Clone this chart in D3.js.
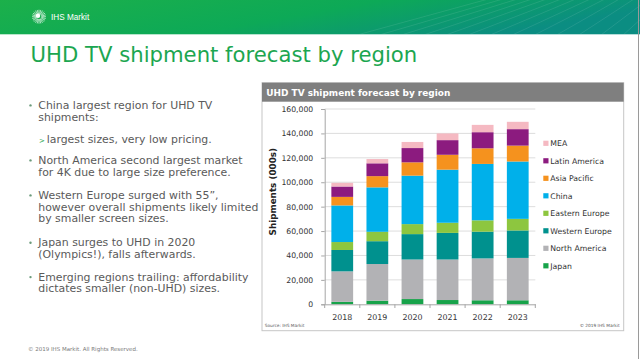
<!DOCTYPE html>
<html>
<head>
<meta charset="utf-8">
<script src="https://cdn.jsdelivr.net/npm/d3@7/dist/d3.min.js"></script>
<style>
  html, body { margin: 0; padding: 0; background: #fff; }
  svg { display: block; font-family: "DejaVu Sans", Verdana, sans-serif; }
</style>
</head>
<body>
<svg id="chart" width="640" height="359"></svg>
<script>
// ---------- data ----------
const years = ["2018", "2019", "2020", "2021", "2022", "2023"];
const regions = ["Japan", "North America", "Western Europe", "Eastern Europe", "China", "Asia Pacific", "Latin America", "MEA"];
const japan         = [2000, 3000, 4300, 3500, 3300, 3300];
const northAmerica  = [25000, 30000, 32400, 33200, 34300, 34700];
const westernEurope = [17500, 18700, 20800, 21800, 21900, 22500];
const easternEurope = [6500, 7700, 8200, 8300, 9300, 9500];
const china         = [30000, 36400, 39700, 43500, 46200, 47000];
const asiaPacific   = [7000, 9200, 10900, 12200, 12800, 13000];
const latinAmerica  = [8500, 10500, 11700, 12000, 13200, 13500];
const mea           = [3000, 3500, 5000, 5500, 6000, 6000];
const yTicks = [0, 20000, 40000, 60000, 80000, 100000, 120000, 140000, 160000];
const colors = ["#17a34a", "#b2b2b5", "#00918e", "#8dc63f", "#00b0ea", "#f5921e", "#8c1b7f", "#f5b9c2"];
const bullets = [
  { type: "bullet", lines: ["China largest region for UHD TV", "shipments:"] },
  { type: "sub", lines: ["largest sizes, very low pricing."] },
  { type: "bullet", lines: ["North America second largest market", "for 4K due to large size preference."] },
  { type: "bullet", lines: ["Western Europe surged with 55\u201d,", "however overall shipments likely limited", "by smaller screen sizes."] },
  { type: "bullet", lines: ["Japan surges to UHD in 2020", "(Olympics!), falls afterwards."] },
  { type: "bullet", lines: ["Emerging regions trailing: affordability", "dictates smaller (non-UHD) sizes."] }
];

const seriesValues = [japan, northAmerica, westernEurope, easternEurope, china, asiaPacific, latinAmerica, mea];
const table = years.map((y, i) => {
  const row = { year: y };
  regions.forEach((r, j) => row[r] = seriesValues[j][i]);
  return row;
});

const svg = d3.select("#chart");

// ---------- header band ----------
const defs = svg.append("defs");
const grad = defs.append("linearGradient").attr("id", "hdr").attr("x1", "0").attr("x2", "1").attr("y1", "0").attr("y2", "0.3");
grad.append("stop").attr("offset", "0").attr("stop-color", "#1cb04a");
grad.append("stop").attr("offset", "0.55").attr("stop-color", "#0da957");
grad.append("stop").attr("offset", "1").attr("stop-color", "#0b8d82");
svg.append("rect").attr("x", 0).attr("y", 0).attr("width", 640).attr("height", 34.3).attr("fill", "url(#hdr)");
defs.append("clipPath").attr("id", "hclip").append("rect").attr("x", 0).attr("y", 0).attr("width", 640).attr("height", 34.3);
const rays = svg.append("g").attr("clip-path", "url(#hclip)");
const apex = [740, -70];
d3.range(14).forEach(i => {
  const xEnd = 360 + i * 22;
  rays.append("line").attr("x1", apex[0]).attr("y1", apex[1]).attr("x2", xEnd + (xEnd - apex[0]) * 0.6).attr("y2", 34.3 + 104 * 0.6)
    .attr("stroke", "#ffffff").attr("stroke-opacity", 0.12).attr("stroke-width", 0.8);
});
// logo
const logo = svg.append("g").attr("transform", "translate(39,16.7)");
d3.range(24).forEach(i => {
  const a = i / 24 * 2 * Math.PI;
  logo.append("line").attr("x1", Math.cos(a) * 2.5).attr("y1", Math.sin(a) * 2.5)
    .attr("x2", Math.cos(a) * 7).attr("y2", Math.sin(a) * 7)
    .attr("stroke", "#fff").attr("stroke-width", 0.7).attr("stroke-opacity", 0.9);
});
logo.append("circle").attr("cx", -1).attr("cy", -1).attr("r", 2.2).attr("fill", "#fff");
svg.append("text").attr("x", 51).attr("y", 19.5).attr("fill", "#fff").attr("font-size", 8.2)
  .attr("font-family", "Liberation Sans, Arial, sans-serif").text("IHS Markit");

// right slide edge
svg.append("line").attr("x1", 638.5).attr("x2", 638.5).attr("y1", 0).attr("y2", 359).attr("stroke", "#9a9a9a").attr("stroke-width", 1);

// ---------- slide title ----------
svg.append("text").attr("x", 30.5).attr("y", 61.7).attr("fill", "#1ca650").attr("font-size", 21.2).text("UHD TV shipment forecast by region");

// ---------- bullets ----------
const bg = svg.append("g").attr("font-size", 10.9).attr("fill", "#5a5a5a");
const lineBaselines = [109, 120.7, 143.3, 164, 175.7, 199, 210.7, 222.3, 246.3, 258, 280.7, 292.3];
let li = 0;
bullets.forEach(b => {
  b.lines.forEach((t, k) => {
    const yb = lineBaselines[li++];
    if (b.type === "bullet" && k === 0) {
      bg.append("circle").attr("cx", 30.5).attr("cy", yb - 3.6).attr("r", 1.2).attr("fill", "#6a9a7a");
    }
    if (b.type === "sub") {
      bg.append("text").attr("x", 39).attr("y", yb - 0.5).attr("fill", "#1ca650").attr("font-size", 7).text(">");
      bg.append("text").attr("x", 46.7).attr("y", yb).text(t);
    } else {
      bg.append("text").attr("x", 38.3).attr("y", yb).text(t);
    }
  });
});
svg.append("text").attr("x", 28).attr("y", 351.3).attr("fill", "#7a7a7a").attr("font-size", 5.5)
  .text("\u00a9 2019 IHS Markit. All Rights Reserved.");

// ---------- chart panel ----------
const panel = { x: 262, y: 82.7, w: 361.7, h: 248 };
svg.append("rect").attr("x", panel.x).attr("y", panel.y).attr("width", panel.w).attr("height", panel.h)
  .attr("fill", "#fff").attr("stroke", "#c6c6c6").attr("stroke-width", 1);
svg.append("rect").attr("x", panel.x).attr("y", panel.y).attr("width", panel.w).attr("height", 19).attr("fill", "#7f7f7f");
svg.append("text").attr("x", 266.3).attr("y", 95.6).attr("fill", "#fff").attr("font-size", 8.95).attr("font-weight", "bold")
  .text("UHD TV shipment forecast by region");

const x = d3.scaleBand().domain(years).range([324.7, 535.3]).paddingInner(0.38).paddingOuter(0.19);
const y = d3.scaleLinear().domain([0, 160000]).range([304.3, 109]);

// gridlines
svg.append("g").selectAll("line").data(yTicks.filter(d => d > 0)).join("line")
  .attr("x1", 324.7).attr("x2", 535.3).attr("y1", d => y(d)).attr("y2", d => y(d))
  .attr("stroke", "#d4d4d4").attr("stroke-width", 0.8);

// stacked bars
const stack = d3.stack().keys(regions)(table);
const color = d3.scaleOrdinal().domain(regions).range(colors);
svg.append("g").selectAll("g").data(stack).join("g").attr("fill", d => color(d.key))
  .selectAll("rect").data(d => d).join("rect")
  .attr("x", d => x(d.data.year)).attr("width", x.bandwidth())
  .attr("y", d => y(d[1])).attr("height", d => y(d[0]) - y(d[1]));

// y axis
const yAxis = svg.append("g").attr("transform", "translate(324.7,0)")
  .call(d3.axisLeft(y).tickValues(yTicks).tickFormat(d3.format(",")).tickSize(3.5).tickPadding(8));
yAxis.select(".domain").attr("stroke", "#a6a6a6");
yAxis.selectAll(".tick line").attr("stroke", "#a6a6a6");
yAxis.selectAll("text").attr("font-size", 7.7).attr("fill", "#333").attr("font-family", "DejaVu Sans, Verdana, sans-serif");

// x axis
const xAxis = svg.append("g").attr("transform", "translate(0,304.3)")
  .call(d3.axisBottom(x).tickSize(0).tickPadding(10.5));
xAxis.select(".domain").attr("stroke", "#a6a6a6");
xAxis.selectAll("text").attr("font-size", 7.9).attr("fill", "#333").attr("font-family", "DejaVu Sans, Verdana, sans-serif");
svg.append("g").selectAll("line").data(d3.range(years.length + 1)).join("line")
  .attr("x1", i => 324.7 + i * x.step()).attr("x2", i => 324.7 + i * x.step())
  .attr("y1", 304.3).attr("y2", 308).attr("stroke", "#a6a6a6");

svg.append("text").attr("transform", "translate(276,191.7) rotate(-90)").attr("text-anchor", "middle")
  .attr("font-size", 8.8).attr("font-weight", "bold").attr("fill", "#222").text("Shipments (000s)");

// legend
const legendOrder = regions.slice().reverse();
const lg = svg.append("g").selectAll("g").data(legendOrder).join("g")
  .attr("transform", (d, i) => `translate(543.3,${143.3 + i * 17.5})`);
lg.append("rect").attr("x", 0).attr("y", -2.6).attr("width", 5.2).attr("height", 5.2).attr("fill", d => color(d));
lg.append("text").attr("x", 7).attr("y", 2.8).attr("font-size", 7.75).attr("fill", "#333").text(d => d);

// panel footers
svg.append("text").attr("x", 264.7).attr("y", 326.6).attr("font-size", 4.3).attr("fill", "#555").text("Source: IHS Markit");
svg.append("text").attr("x", 619.7).attr("y", 326.6).attr("text-anchor", "end").attr("font-size", 4.3).attr("fill", "#555").text("\u00a9 2019 IHS Markit");
</script>
</body>
</html>
